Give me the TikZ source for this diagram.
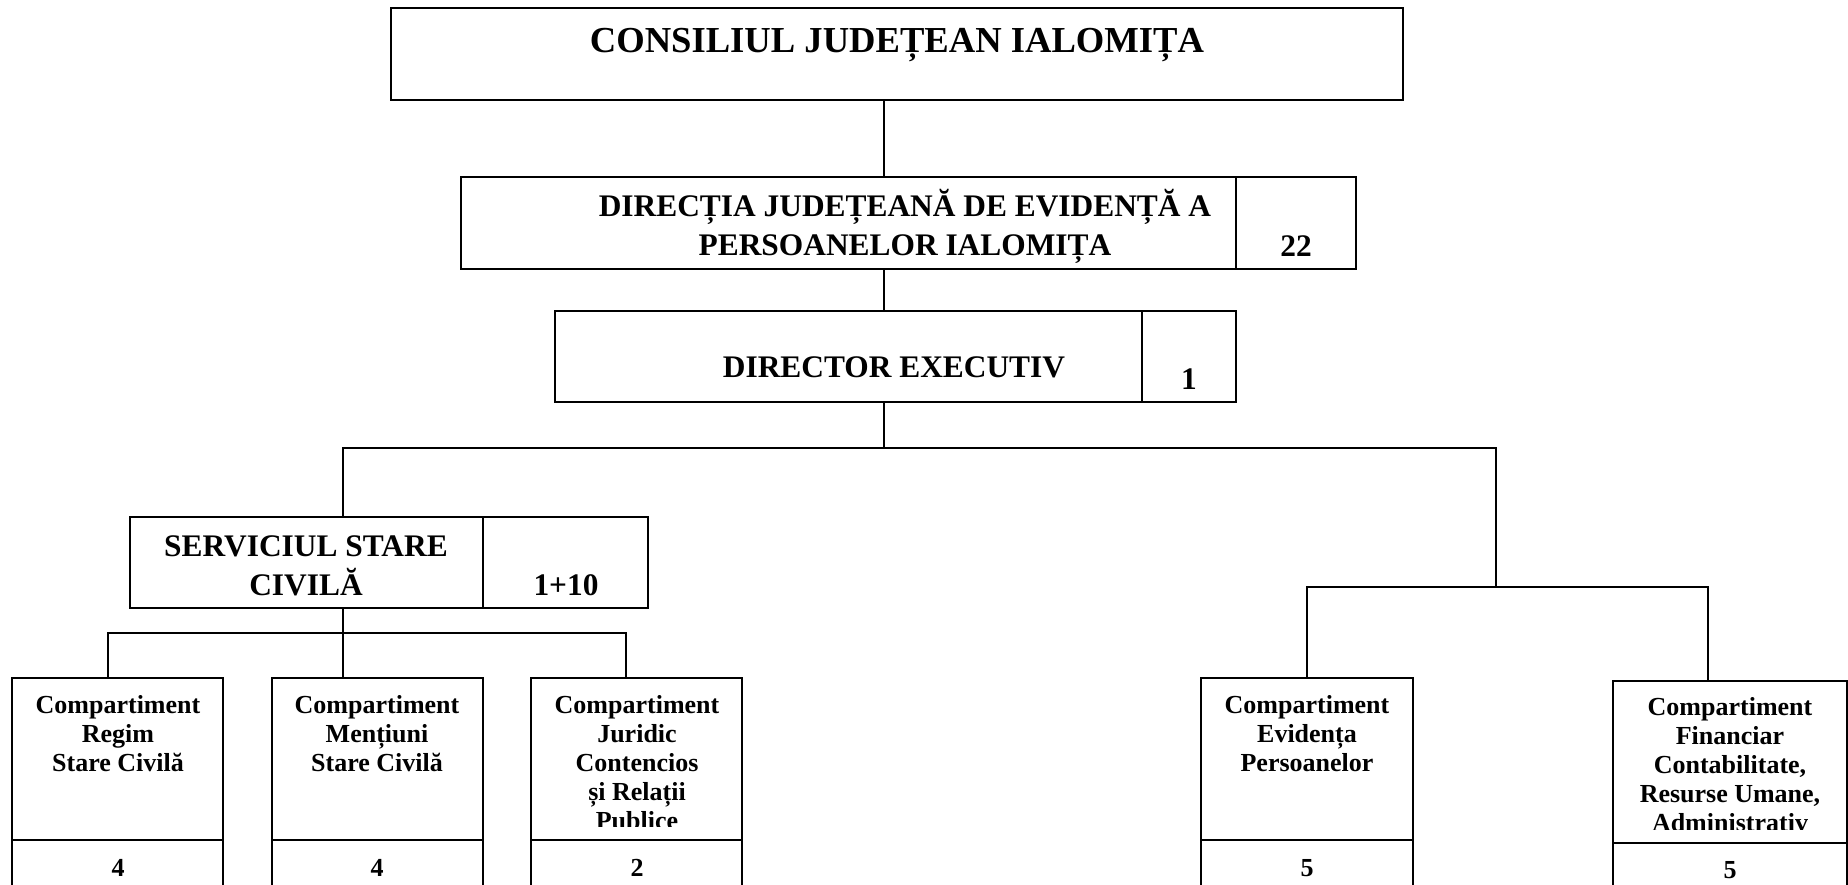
\documentclass[tikz,border=0pt]{standalone}
\usepackage{fontspec}
\setmainfont{Liberation Serif}
\usetikzlibrary{fit}
\begin{document}
\begin{tikzpicture}[x=0.5pt,y=-0.5pt,
  frame/.style={draw, line width=1.3pt, inner sep=0pt},
  link/.style={line width=0.8pt},
  head/.style={font=\bfseries\fontsize{18.3}{22}\selectfont, inner sep=0pt, anchor=base},
  big/.style={font=\bfseries\fontsize{15.7}{19.5}\selectfont, inner sep=0pt, anchor=base, align=center},
  small/.style={font=\bfseries\fontsize{13}{14.5}\selectfont, inner sep=0pt, anchor=base, align=center}]
\useasboundingbox (0,0) rectangle (1848,884);
\clip (0,0) rectangle (1848,884);

% level 1
\node[frame, fit={(391,8)(1403,100)}] (cj) {};
\node[head] (cjt) at (897,52) {CONSILIUL JUDEȚEAN IALOMIȚA};

% level 2
\node[frame, fit={(461,177)(1236,269)}] (dj) {};
\node[frame, fit={(1236,177)(1356,269)}] (djn) {};
\node[big] (djt) at (905,255) {DIRECȚIA JUDEȚEANĂ DE EVIDENȚĂ A\\PERSOANELOR IALOMIȚA};
\node[big] (djnt) at (1296,256) {22};

% level 3
\node[frame, fit={(555,311)(1142,402)}] (de) {};
\node[frame, fit={(1142,311)(1236,402)}] (den) {};
\node[big] (det) at (894,377) {DIRECTOR EXECUTIV};
\node[big] (dent) at (1189,389) {1};

% serviciu
\node[frame, fit={(130,517)(483,608)}] (ssc) {};
\node[frame, fit={(483,517)(648,608)}] (sscn) {};
\node[big] (ssct) at (306,595) {SERVICIUL STARE\\CIVILĂ};
\node[big] (sscnt) at (566,595) {1+10};

% compartimente
\node[frame, fit={(12,678)(223,840)}] (crs) {};
\node[frame, fit={(12,840)(223,900)}] (crsn) {};
\node[small] (crst) at (118,771) {Compartiment\\Regim\\Stare Civilă};
\node[small] (crsnt) at (118,876) {4};

\node[frame, fit={(272,678)(483,840)}] (cms) {};
\node[frame, fit={(272,840)(483,900)}] (cmsn) {};
\node[small] (cmst) at (377,771) {Compartiment\\Mențiuni\\Stare Civilă};
\node[small] (cmsnt) at (377,876) {4};

\node[frame, fit={(531,678)(742,840)}] (cjc) {};
\node[frame, fit={(531,840)(742,900)}] (cjcn) {};
\begin{scope}
\clip (531,678) rectangle (742,826);
\node[small] (cjct) at (637,829) {Compartiment\\Juridic\\Contencios\\și Relații\\Publice};
\end{scope}
\node[small] (cjcnt) at (637,876) {2};

\node[frame, fit={(1201,678)(1413,840)}] (cep) {};
\node[frame, fit={(1201,840)(1413,900)}] (cepn) {};
\node[small] (cept) at (1307,771) {Compartiment\\Evidența\\Persoanelor};
\node[small] (cepnt) at (1307,876) {5};

\node[frame, fit={(1613,681)(1847,843)}] (cfc) {};
\node[frame, fit={(1613,843)(1847,900)}] (cfcn) {};
\begin{scope}
\clip (1613,681) rectangle (1847,829);
\node[small] (cfct) at (1730,831) {Compartiment\\Financiar\\Contabilitate,\\Resurse Umane,\\Administrativ};
\end{scope}
\node[small] (cfcnt) at (1730,878) {5};

% connectors
\coordinate (sp) at (884,0);
\coordinate (bus) at (884,448);
\coordinate (lx) at (343,448);
\coordinate (rb) at (1496,587);
\coordinate (lsb) at (343,633);
\coordinate (x1) at (108,0);
\coordinate (x3) at (626,0);
\coordinate (x4) at (1307,0);
\coordinate (x5) at (1708,0);

\draw[link] (cj.south -| sp) -- (dj.north -| sp);
\draw[link] (dj.south -| sp) -- (de.north -| sp);
\draw[link] (de.south -| sp) -- (bus);
\draw[link] (ssc.north -| lx) -- (lx) -- (rb |- bus) -- (rb);
\draw[link] (cep.north -| x4) |- (rb) -| (cfc.north -| x5);
\draw[link] (ssc.south -| lsb) -- (lsb);
\draw[link] (crs.north -| x1) |- (lsb) -| (cjc.north -| x3);
\draw[link] (cms.north -| lsb) -- (lsb);
\end{tikzpicture}
\end{document}
